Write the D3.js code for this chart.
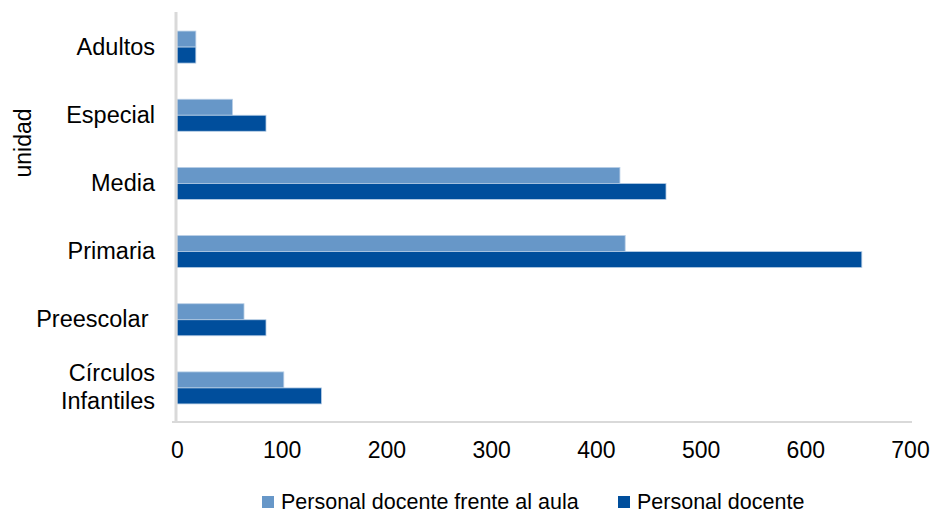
<!DOCTYPE html>
<html>
<head>
<meta charset="utf-8">
<script src="https://cdn.jsdelivr.net/npm/d3@7"></script>
<style>
  body { margin: 0; background: #fff; }
  text { font-family: "Liberation Sans", Arial, sans-serif; fill: #000; }
</style>
</head>
<body>
<svg id="chart" width="933" height="514"></svg>
<script>
// datos
const categorias = ["Adultos", "Especial", "Media", "Primaria", "Preescolar ", "Círculos Infantiles"]
const frenteAula = [18, 53, 423, 428, 64, 102]
const docente = [18, 85, 467, 654, 85, 138]
const series = ["Personal docente frente al aula", "Personal docente"]
const colores = ["#6797c8", "#004e9c"]
const ticksX = [0, 100, 200, 300, 400, 500, 600, 700]

const svg = d3.select('#chart')

const x = d3.scaleLinear().domain([0, 700]).range([177, 910])
const y = d3.scaleBand().domain(categorias).range([13, 422]).paddingInner(0.53).paddingOuter(0.265)
const ySub = d3.scaleBand().domain(series).range([0, y.bandwidth()])

// barras
const grupos = svg.append('g')
  .selectAll('g.cat')
  .data(categorias)
  .enter()
  .append('g')
  .attr('transform', d => `translate(0,${y(d)})`)

grupos.selectAll('rect')
  .data((d, i) => [
    { serie: series[0], v: frenteAula[i] },
    { serie: series[1], v: docente[i] }
  ])
  .enter()
  .append('rect')
  .attr('x', x(0))
  .attr('y', d => ySub(d.serie))
  .attr('width', d => x(d.v) - x(0))
  .attr('height', ySub.bandwidth())
  .attr('fill', (d, i) => colores[i])
  .attr('stroke', '#b9cfe6')
  .attr('stroke-width', 0.8)

// eje x
const ejeX = svg.append('g')
  .attr('transform', 'translate(0,422)')
  .call(d3.axisBottom(x).tickValues(ticksX).tickSize(0).tickPadding(20))
ejeX.select('.domain').attr('stroke', '#d9d9d9').attr('stroke-width', 2).attr('d', 'M172,0H912')
ejeX.selectAll('text').style('font-size', '23px').attr('font-family', null)

// eje y
const ejeY = svg.append('g')
  .attr('transform', 'translate(176,0)')
  .call(d3.axisLeft(y).tickSize(0).tickPadding(21))
ejeY.select('.domain').attr('stroke', '#d9d9d9').attr('stroke-width', 3).attr('d', 'M0,12V423')
ejeY.selectAll('text')
  .style('font-size', '23.5px')
  .style('white-space', 'pre')
  .attr('font-family', null)
  .each(function(d) {
    const t = d3.select(this)
    if (d === "Círculos Infantiles") {
      t.text(null)
      t.append('tspan').attr('x', -21).attr('dy', '-0.28em').text('Círculos')
      t.append('tspan').attr('x', -21).attr('dy', '1.18em').text('Infantiles')
    }
  })

// titulo eje y
svg.append('text')
  .attr('transform', 'translate(31,143) rotate(-90)')
  .attr('text-anchor', 'middle')
  .style('font-size', '23px')
  .text('unidad')

// leyenda
const leyX = [262, 618]
const leyenda = svg.append('g')
  .selectAll('g')
  .data(series)
  .enter()
  .append('g')
  .attr('transform', (d, i) => `translate(${leyX[i]},496)`)
leyenda.append('rect')
  .attr('width', 12).attr('height', 12)
  .attr('fill', (d, i) => colores[i])
leyenda.append('text')
  .attr('x', 19).attr('y', 12.5)
  .style('font-size', '21.5px')
  .text(d => d)
</script>
</body>
</html>
